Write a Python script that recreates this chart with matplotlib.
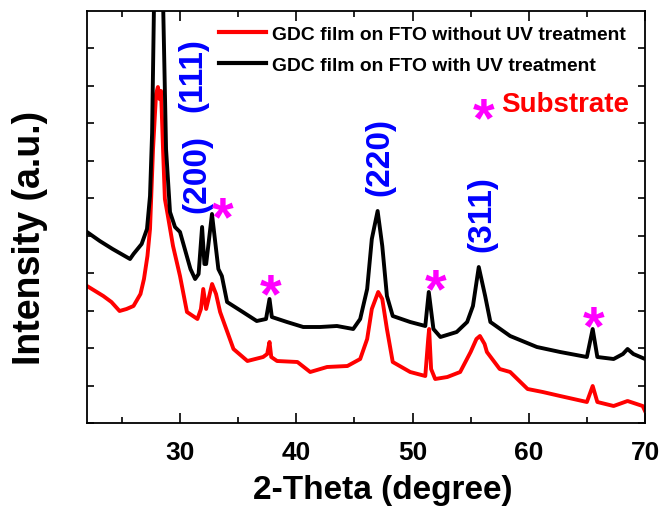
import matplotlib
matplotlib.use("Agg")
import matplotlib.pyplot as plt
from matplotlib.ticker import MultipleLocator, NullFormatter

plt.rcParams['font.family'] = ['Liberation Sans', 'DejaVu Sans']
plt.rcParams['font.weight'] = 'bold'

# ---- data (2-theta in degrees, intensity in arbitrary units) ----
x_red = [22.0, 22.7, 23.4, 24.1, 24.8, 25.4, 26.0, 26.6, 26.9, 27.2, 27.42, 27.68,
         27.94, 28.1, 28.24, 28.37, 28.54, 28.7, 28.9, 29.4, 30.0, 30.6, 31.5, 31.8,
         32.0, 32.25, 32.76, 33.1, 33.45, 34.6, 35.8, 37.15, 37.5, 37.7, 37.85, 38.35,
         40.1, 41.2, 42.65, 44.4, 45.5, 46.1, 46.5, 47.05, 47.4, 47.8, 48.3, 49.8,
         51.1, 51.35, 51.43, 51.6, 51.95, 53.0, 54.1, 55.0, 55.5, 55.8, 56.2, 56.4,
         57.5, 58.4, 59.9, 61.2, 62.7, 65.0, 65.5, 65.9, 67.3, 68.5, 69.8, 70.0]
y_red = [137, 132, 127, 121, 112, 114, 117, 129, 144, 167, 194, 274,
         329, 336, 324, 332, 274, 224, 211, 177, 147, 111, 104, 114,
         134, 114, 139, 129, 111, 74, 62, 66, 69, 81, 66, 62,
         61, 51, 56, 57, 64, 84, 114, 131, 124, 94, 61, 51,
         47, 84, 94, 54, 44, 46, 51, 71, 84, 87, 79, 71,
         54, 51, 34, 31, 27, 21, 37, 21, 17, 22, 17, 12]

x_black = [22.0, 23.1, 24.2, 25.4, 25.7, 26.0, 26.7, 27.16, 27.42,
           27.6, 27.77, 28.15, 28.54, 28.8, 29.14, 29.57, 30.0, 30.9, 31.3, 31.6, 31.9,
           32.1, 32.25, 32.75, 33.0, 33.3, 33.6, 34.05, 35.4, 36.6, 37.4, 37.7, 37.9,
           39.2, 40.6, 42.05, 43.5, 44.9, 45.5, 46.1, 46.5, 47.0, 47.4, 47.8, 48.3,
           49.8, 51.1, 51.4, 51.8, 52.4, 53.8, 54.7, 55.2, 55.7, 56.25, 56.7, 58.4,
           60.7, 62.7, 65.0, 65.5, 65.9, 67.3, 68.1, 68.5, 69.0, 70.0]
y_black = [191, 182, 174, 166, 164, 169, 179, 194, 227,
           290, 424, 624, 424, 274, 211, 196, 191, 154, 144, 149, 196,
           159, 159, 209, 184, 154, 147, 121, 111, 102, 104, 124, 106,
           101, 96, 96, 97, 94, 104, 134, 184, 212, 177, 127, 107,
           101, 97, 131, 94, 86, 91, 101, 117, 156, 127, 101, 87,
           76, 71, 66, 94, 66, 64, 69, 74, 69, 64]

hkl_labels = ['(111)', '(200)', '(220)', '(311)']
hkl_x = [31.12, 31.47, 47.22, 55.99]
hkl_y = [349, 250, 267, 210]

star_x = [33.70, 37.83, 52.03, 65.55]
star_y = [221, 144, 149, 112]

series_labels = ['GDC film on FTO without UV treatment',
                 'GDC film on FTO with UV treatment']
x_ticks = [30, 40, 50, 60, 70]

# ---- figure ----
fig = plt.figure(figsize=(6.6, 5.1), dpi=100)
ax = fig.add_axes([87/660, 1-424/510, (645-87)/660, (424-12)/510])

ax.plot(x_red, y_red, color='#ff0000', lw=2.8, label=series_labels[0], solid_joinstyle='round')
ax.plot(x_black, y_black, color='black', lw=2.8, label=series_labels[1], solid_joinstyle='round')

ax.set_xlim(22, 70)
ax.set_ylim(0, 412)
ax.set_xticks(x_ticks)
ax.xaxis.set_minor_locator(MultipleLocator(5))
ax.yaxis.set_major_locator(MultipleLocator(37.5))
ax.yaxis.set_major_formatter(NullFormatter())
ax.tick_params(which='both', direction='in', top=True, right=True, width=1.2)
ax.tick_params(which='major', length=7)
ax.tick_params(which='minor', length=4)
ax.tick_params(axis='y', which='major', length=5)
ax.tick_params(axis='x', labelsize=19, pad=12)
for lbl in ax.get_xticklabels():
    lbl.set_fontweight('bold')
for s in ax.spines.values():
    s.set_linewidth(1.3)

# hkl labels
for t, xx, yy in zip(hkl_labels, hkl_x, hkl_y):
    ax.text(xx, yy, t, rotation=90, ha='center', va='center', color='#0000ff',
            fontsize=24, fontweight='bold')

# substrate asterisks
fs_star = 40
for xx, yy in zip(star_x, star_y):
    ax.annotate('*', xy=(xx, yy), xytext=(0, -0.585*fs_star), textcoords='offset points',
                ha='center', va='baseline', color='#ff00ff', fontsize=fs_star, fontweight='bold')
ax.annotate('*', xy=(56.08, 320), xytext=(0, -0.585*fs_star), textcoords='offset points',
            ha='center', va='baseline', color='#ff00ff', fontsize=fs_star, fontweight='bold')
ax.text(57.63, 319, 'Substrate', ha='left', va='center', color='#ff0000',
        fontsize=20, fontweight='bold')

leg = ax.legend(loc='upper left', bbox_to_anchor=(219/660, 1-26/510),
                bbox_transform=fig.transFigure, frameon=False, borderpad=0,
                borderaxespad=0, handlelength=2.45, handletextpad=0.3,
                labelspacing=0.72, prop={'size': 13.9, 'weight': 'bold'})
for h in leg.get_lines():
    h.set_linewidth(3)

fig.text(30/660, 1-238/510, 'Intensity (a.u.)', rotation=90, ha='center', va='center',
         fontsize=27, fontweight='bold')
fig.text(383/660, 1-491/510, '2-Theta (degree)', ha='center', va='center',
         fontsize=24, fontweight='bold')

fig.savefig('out.png', dpi=100)
